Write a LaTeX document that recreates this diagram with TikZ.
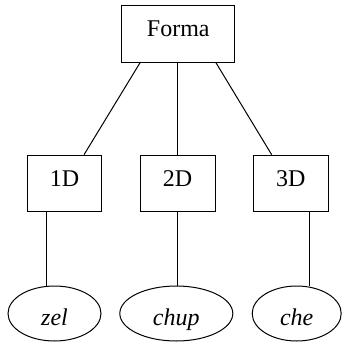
\documentclass[tikz,border=0pt]{standalone}
\usepackage{fontspec}
\setmainfont{Liberation Serif}
\usetikzlibrary{shapes.geometric}
\begin{document}
\begin{tikzpicture}[x=1pt,y=-1pt,
  box/.style={draw,line width=1pt,rectangle,inner sep=0pt,text height=16pt,text depth=10.5pt,font=\fontsize{24}{28}\selectfont},
  oval/.style={draw,line width=1pt,ellipse,inner sep=0pt,minimum height=55pt,text height=23pt,text depth=0pt,font=\fontsize{24}{28}\selectfont\itshape},
  edge/.style={line width=1pt}]
\useasboundingbox (0,0) rectangle (342,344);
\node[box,minimum width=113pt,minimum height=57pt] (forma) at (178.3,33.8) {Forma};
\node[box,minimum width=74pt,minimum height=56.5pt] (d1) at (64.5,183.5) {1D};
\node[box,minimum width=75pt,minimum height=56.5pt] (d2) at (177.5,183.5) {2D};
\node[box,minimum width=75pt,minimum height=56.5pt] (d3) at (290.8,183.5) {3D};
\node[oval,minimum width=93pt] (zel) at (54.5,313.5) {zel};
\node[oval,minimum width=113pt] (chup) at (176.3,313.5) {chup};
\node[oval,minimum width=89pt] (che) at (296.7,313.5) {che};
\draw[edge] ([xshift=-38.3pt]forma.south) -- ([xshift=19.5pt]d1.north);
\draw[edge] ([xshift=-0.6pt]forma.south) -- ([xshift=0.2pt]d2.north);
\draw[edge] ([xshift=37.7pt]forma.south) -- ([xshift=-19.1pt]d3.north);
\draw[edge] ([xshift=-17.8pt]d1.south) -- ([xshift=-7.8pt]zel.north);
\draw[edge] ([xshift=0.2pt]d2.south) -- ([xshift=1.4pt]chup.north);
\draw[edge] ([xshift=18.5pt]d3.south) -- ([xshift=12.6pt]che.north);
\end{tikzpicture}
\end{document}
